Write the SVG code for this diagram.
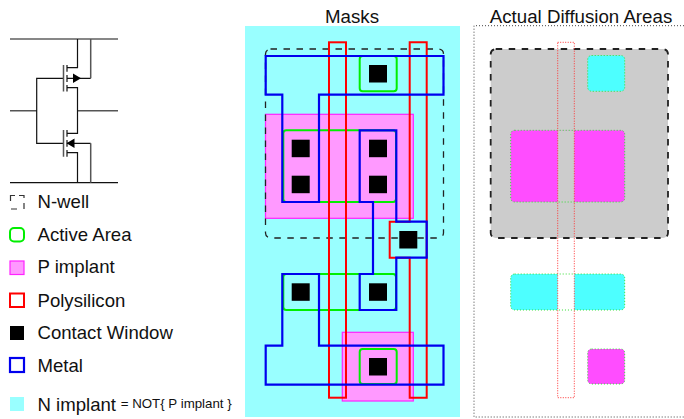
<svg xmlns="http://www.w3.org/2000/svg" width="684" height="419" viewBox="0 0 684 419">
<defs>
<style>
text{font-family:"Liberation Sans",Arial,sans-serif;fill:#111}
.lg{font-size:18.600px}
.tt{font-size:18.700px;text-anchor:middle}
.w{fill:none;stroke:#111;stroke-width:1.200}
.w2{fill:none;stroke:#555;stroke-width:1.500}
.nw{fill:none;stroke:#222;stroke-width:1.300;stroke-dasharray:6.500 6.500}
.nw2{fill:none;stroke:#222;stroke-width:1.800;stroke-dasharray:6.500 6.500}
.aa{fill:none;stroke:#00ee00;stroke-width:2}
.pi{fill:#ff99ff;stroke:#ff22ff;stroke-width:1.200}
.po{fill:none;stroke:#ff0000;stroke-width:2}
.cw{fill:#000}
.me{fill:none;stroke:#0000ee;stroke-width:2.200}
.dg{fill:none;stroke:#33dd33;stroke-width:1;stroke-dasharray:1 2}
.dr{fill:none;stroke:#ff3333;stroke-width:1;stroke-dasharray:1 1.500}
</style>
</defs>
<rect width="684" height="419" fill="#fff"/>
<g id="schematic">
<path class="w" d="M10 39H118M10 182.700H118"/>
<path class="w2" d="M10 110.700H37M77.500 110.700H118"/>
<path class="w" d="M77.500 39V67.700H67M67 65V71.700M67 75V82M67 85V91.500M67 87.700H77.500V133.300H67M67 130V136.700M67 140V146.700M67 150V156.700M67 152.700H77.500V182.700M36.700 110.700V78.300H63.500M36.700 110.700V143.300H63.500M67 78.300H90.700M67 143.300H90.700"/>
<path class="w2" d="M63.500 65V91.500M63.500 130V156.700M90.700 39V78.300M90.700 143.300V182.700"/>
<path d="M73 73.500L81 78.300L73 83.100Z M74.500 138.500L66.500 143.300L74.500 148.100Z" fill="#000"/>
</g>
<g id="legend">
<g id="legend-nwell"><path fill="none" stroke="#333" stroke-width="1.200" d="M10.500 201V195.500H15M19 195.500H24V198M24 203V209M17 209H11"/><text class="lg" x="37.500" y="208.300">N-well</text></g>
<g id="legend-active"><rect class="aa" x="10" y="228" width="14" height="13.500" rx="4"/><text class="lg" x="37.500" y="241">Active Area</text></g>
<g id="legend-pimplant"><rect class="pi" x="10" y="261" width="14" height="13.500"/><text class="lg" x="37.500" y="273.300">P implant</text></g>
<g id="legend-poly"><rect class="po" x="10" y="293.500" width="14" height="13.500"/><text class="lg" x="37.500" y="306.700">Polysilicon</text></g>
<g id="legend-contact"><rect class="cw" x="10" y="326" width="14" height="14"/><text class="lg" x="37.500" y="339">Contact Window</text></g>
<g id="legend-metal"><rect class="me" x="10" y="358" width="14" height="14"/><text class="lg" x="37.500" y="371.700">Metal</text></g>
<g id="legend-nimplant"><rect fill="#99ffff" x="10" y="397" width="14" height="14"/><text x="37.500" y="410.700" font-size="18.600">N implant</text><text x="120.700" y="408" font-size="13.300">= NOT{ P implant }</text></g>
</g>
<g id="masks">
<text class="tt" x="352" y="22.500">Masks</text>
<rect x="245" y="26" width="215" height="391" fill="#99ffff"/>
<rect class="pi" x="265.500" y="114.300" width="147.800" height="104"/>
<rect class="pi" x="342.300" y="332.300" width="71" height="68.700"/>
<rect class="nw" x="265.500" y="49" width="178" height="189" rx="5"/>
<g id="active">
<rect class="aa" x="359.700" y="56" width="37" height="35.300" rx="3"/>
<rect class="aa" x="283.300" y="130.300" width="112.700" height="71.700" rx="3"/>
<rect class="aa" x="283.300" y="274" width="112.700" height="36" rx="3"/>
<rect class="aa" x="359.700" y="349" width="37" height="35" rx="3"/>
</g>
<g id="poly">
<rect class="po" x="329" y="42.300" width="17" height="355.400"/>
<path class="po" d="M409.700 221.700V42.300H426.700V397.700H409.700V257.700H389.700V221.700Z"/>
</g>
<g id="contacts">
<rect class="cw" x="369" y="65" width="18" height="17.500"/>
<rect class="cw" x="291.700" y="139.700" width="18" height="17.500"/>
<rect class="cw" x="291.700" y="175.700" width="18" height="17.500"/>
<rect class="cw" x="369" y="139.700" width="18" height="17.500"/>
<rect class="cw" x="369" y="175.700" width="18" height="17.500"/>
<rect class="cw" x="399.300" y="231" width="18" height="17.500"/>
<rect class="cw" x="291.700" y="283.300" width="18" height="17.500"/>
<rect class="cw" x="369" y="283.300" width="18" height="17.500"/>
<rect class="cw" x="369" y="358" width="18" height="17.500"/>
</g>
<g id="metal">
<path class="me" d="M265.700 56H443.500V94.700H319V202H282.300V94.700H265.700Z"/>
<path class="me" d="M359.700 130.300H396.300V221.700H426.700V257.700H396.300V310H359.700V274H373V202H359.700Z"/>
<path class="me" d="M282.300 274H319V345.700H443.500V384.700H265.700V345.700H282.300Z"/>
</g>
</g>
<g id="diffusion">
<text class="tt" x="581" y="22.500">Actual Diffusion Areas</text>
<path fill="none" stroke="#444" stroke-width="1" stroke-dasharray="1 2" d="M684 25.700H474V417H684"/>
<rect x="490.700" y="49" width="177.300" height="189" rx="5" fill="#ccc"/>
<rect class="nw2" x="490.700" y="49" width="177.300" height="189" rx="5"/>
<rect x="587.700" y="55.500" width="37" height="35.800" rx="4" fill="#4dffff"/>
<rect class="dg" x="587.700" y="55.500" width="37" height="35.800" rx="4"/>
<rect x="510.700" y="130.300" width="114" height="71.700" rx="4" fill="#ff4dff"/>
<rect x="557.700" y="130.300" width="16.600" height="71.700" fill="#ccc"/>
<rect class="dg" x="510.700" y="130.300" width="114" height="71.700" rx="4"/>
<rect x="510.700" y="274" width="114" height="36" rx="4" fill="#4dffff"/>
<rect x="557.700" y="274" width="16.600" height="36" fill="#fff"/>
<rect class="dg" x="510.700" y="274" width="114" height="36" rx="4"/>
<rect x="587.700" y="349" width="37" height="35" rx="4" fill="#ff4dff"/>
<rect class="dg" x="587.700" y="349" width="37" height="35" rx="4"/>
<rect class="dr" x="557.700" y="42.300" width="16.600" height="355.400"/>
</g>
</svg>
